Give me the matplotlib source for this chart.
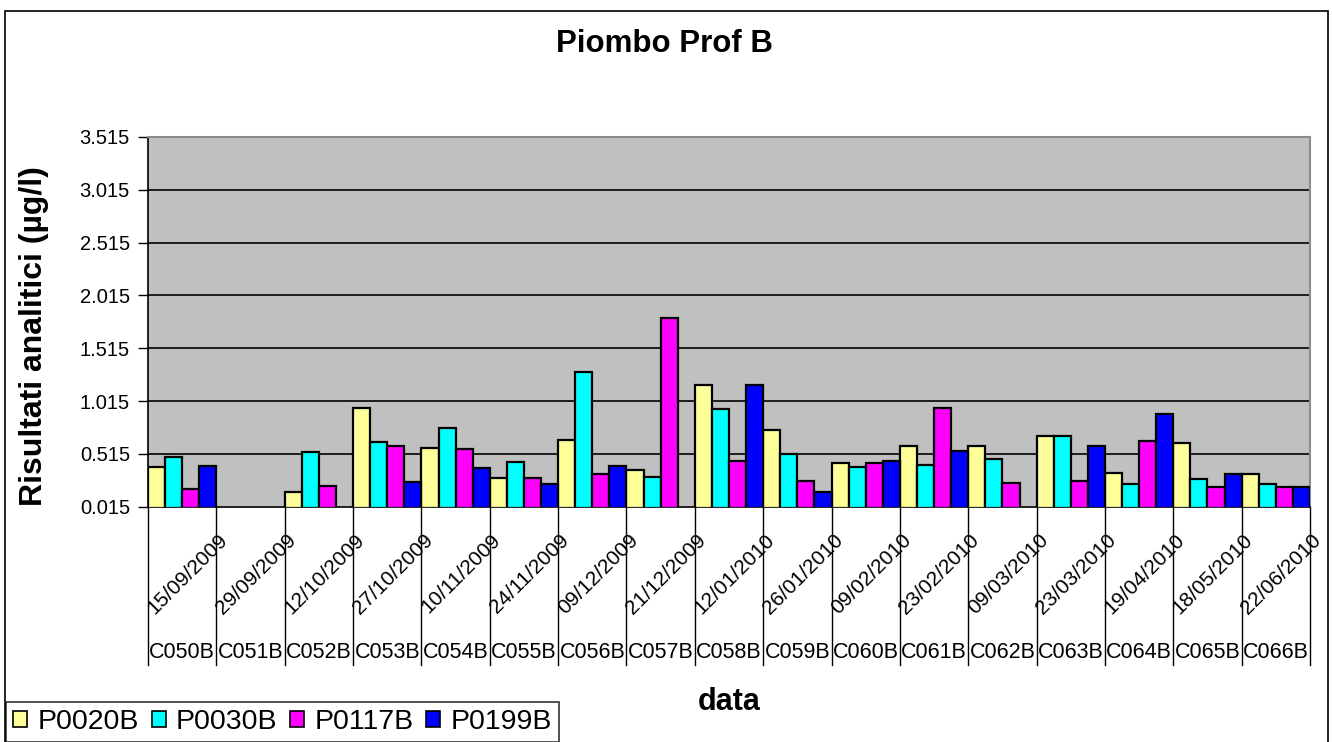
import numpy as np
import matplotlib
matplotlib.use("Agg")
import matplotlib.pyplot as plt
import matplotlib.transforms as mtransforms
from matplotlib.patches import Patch, Rectangle

plt.rcParams['font.family'] = ['Liberation Sans', 'DejaVu Sans']

################################################################################
# data
codes = ["C050B", "C051B", "C052B", "C053B", "C054B", "C055B", "C056B", "C057B",
         "C058B", "C059B", "C060B", "C061B", "C062B", "C063B", "C064B", "C065B",
         "C066B"]
dates = ["15/09/2009", "29/09/2009", "12/10/2009", "27/10/2009", "10/11/2009",
         "24/11/2009", "09/12/2009", "21/12/2009", "12/01/2010", "26/01/2010",
         "09/02/2010", "23/02/2010", "09/03/2010", "23/03/2010", "19/04/2010",
         "18/05/2010", "22/06/2010"]
nan = np.nan
P0020B = [0.394, nan, 0.151, 0.947, 0.568, 0.284, 0.644, 0.360, 1.170, 0.741,
          0.432, 0.587, 0.587, 0.682, 0.337, 0.621, 0.322]
P0030B = [0.488, nan, 0.530, 0.625, 0.757, 0.435, 1.291, 0.299, 0.943, 0.511,
          0.394, 0.413, 0.470, 0.682, 0.227, 0.280, 0.227]
P0117B = [0.185, nan, 0.208, 0.587, 0.564, 0.284, 0.322, 1.799, 0.451, 0.261,
          0.432, 0.947, 0.242, 0.261, 0.640, 0.204, 0.204]
P0199B = [0.400, nan, nan, 0.246, 0.379, 0.227, 0.400, nan, 1.170, 0.151,
          0.451, 0.545, nan, 0.587, 0.890, 0.322, 0.204]
seriesNames = ["P0020B", "P0030B", "P0117B", "P0199B"]
seriesVals = [P0020B, P0030B, P0117B, P0199B]
seriesColors = ["#FFFF99", "#00FFFF", "#FF00FF", "#0000FF"]
yTicks = [0.015, 0.515, 1.015, 1.515, 2.015, 2.515, 3.015, 3.515]

################################################################################
W, H = 1332, 742
fig = plt.figure(figsize=(W / 100, H / 100), dpi=100)
ax = fig.add_axes([148 / W, 1 - 506.7 / H, (1310 - 148) / W, (506.7 - 137) / H])
ax.set_facecolor("#C0C0C0")

n = len(codes)
x = np.arange(n)
bw = 0.25
for k, (name, vals, col) in enumerate(zip(seriesNames, seriesVals, seriesColors)):
    v = np.array(vals, dtype=float)
    ok = ~np.isnan(v)
    ax.bar(x[ok] + (k - 1.5) * bw, v[ok], width=bw, color=col,
           edgecolor="black", linewidth=1.6, zorder=3)

ax.set_xlim(-0.5, n - 0.5)
ax.set_ylim(yTicks[0], yTicks[-1])
ax.set_yticks(yTicks)
ax.set_yticklabels(["%.3f" % t for t in yTicks])
for t in yTicks[1:-1]:
    ax.axhline(t, color="black", linewidth=1.2, zorder=1)
ax.tick_params(axis="y", direction="out", length=7, width=1, labelsize=14.5, pad=6)
ax.set_xticks([])

for s in ["top", "right"]:
    ax.spines[s].set_color("#8C8C8C")
    ax.spines[s].set_linewidth(1.5)
for s in ["left", "bottom"]:
    ax.spines[s].set_color("black")
    ax.spines[s].set_linewidth(1.2)

# multi-level category axis
trans = mtransforms.blended_transform_factory(ax.transData, ax.transAxes)
for b in np.arange(n + 1) - 0.5:
    ax.plot([b, b], [0, -0.428], color="black", linewidth=1, transform=trans,
            clip_on=False)
for i in range(n):
    ax.text(x[i] + 0.08, -0.182, dates[i], rotation=45, ha="center", va="center",
            fontsize=15, transform=trans)
    ax.text(x[i], -0.394, codes[i], ha="center", va="center", fontsize=15.5,
            transform=trans)

fig.text(664 / W, 1 - 44 / H, "Piombo Prof B", ha="center", va="center",
         fontsize=22.5, fontweight="bold")
fig.text(729 / W, 1 - 702 / H, "data", ha="center", va="center",
         fontsize=22, fontweight="bold")
fig.text(34 / W, 1 - 336 / H, "Risultati analitici (µg/l)", ha="center",
         va="center", rotation=90, fontsize=23, fontweight="bold")

# chart border
fig.patches.append(Rectangle((5 / W, -0.05), 1323 / W, 1.05 - 11 / H,
                             transform=fig.transFigure, fill=False,
                             edgecolor="black", linewidth=1.2))

handles = [Patch(facecolor=c, edgecolor="black", linewidth=1.2) for c in seriesColors]
leg = fig.legend(handles, seriesNames, loc="upper left",
                 bbox_to_anchor=(6 / W, 1 - 702 / H), ncol=4, fontsize=20.5,
                 frameon=True, fancybox=False, borderaxespad=0, borderpad=0.25,
                 handlelength=0.5, handleheight=0.5, handletextpad=0.35,
                 columnspacing=0.45)
leg.get_frame().set_edgecolor("black")
leg.get_frame().set_linewidth(1.2)

fig.savefig("out.png", dpi=100, facecolor="white")
